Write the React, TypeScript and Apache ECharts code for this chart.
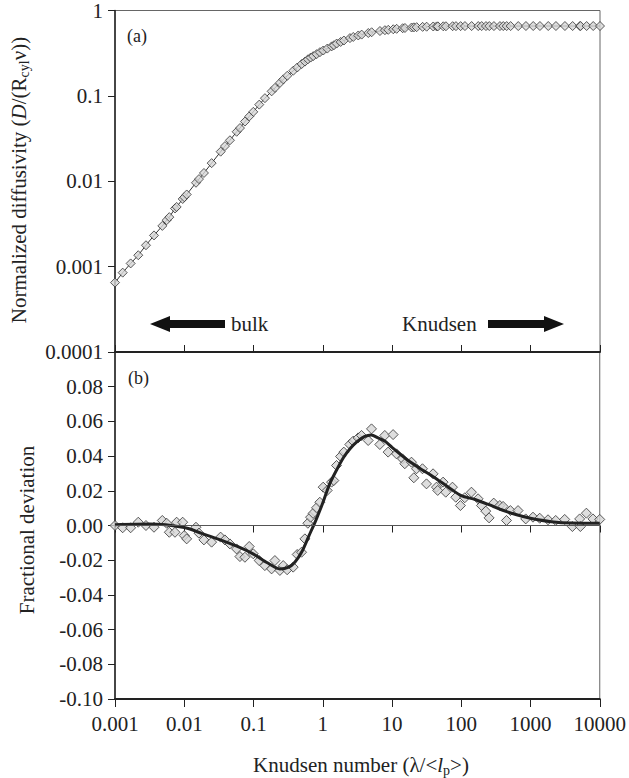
import React, { useEffect, useRef } from "react";
import * as echarts from "echarts";

// Knudsen number positions (log10 of Kn)
const knLog10 = [
  -3.0, -2.889, -2.774, -2.664, -2.553, -2.437, -2.317, -2.254, -2.216, -2.134,
  -2.11, -2.023, -2.0, -1.965, -1.831, -1.788, -1.716, -1.605, -1.475, -1.413,
  -1.341, -1.244, -1.196, -1.124, -1.062, -1.004, -0.918, -0.836, -0.739, -0.691,
  -0.619, -0.571, -0.514, -0.427, -0.369, -0.306, -0.258, -0.215, -0.176, -0.139,
  -0.09, -0.042, 0.006, 0.064, 0.127, 0.16, 0.199, 0.257, 0.304, 0.391,
  0.439, 0.511, 0.56, 0.656, 0.704, 0.824, 0.896, 0.944, 1.016, 1.065,
  1.152, 1.185, 1.281, 1.315, 1.354, 1.44, 1.498, 1.593, 1.642, 1.66,
  1.738, 1.776, 1.873, 1.921, 1.988, 2.051, 2.147, 2.243, 2.292, 2.354,
  2.402, 2.469, 2.556, 2.604, 2.653, 2.71, 2.82, 2.931, 3.036, 3.133,
  3.253, 3.364, 3.494, 3.605, 3.71, 3.72, 3.807, 3.902, 4.0,
];

// Panel (a): normalized diffusivity
const diffusivity = [
  0.00065, 0.00085, 0.00109, 0.00136, 0.00178, 0.00232, 0.003, 0.0035, 0.0038, 0.0048,
  0.005, 0.0062, 0.0065, 0.007, 0.0096, 0.0106, 0.0125, 0.0163, 0.0222, 0.0258,
  0.0302, 0.038, 0.042, 0.05, 0.0575, 0.065, 0.079, 0.094, 0.113, 0.124,
  0.142, 0.156, 0.172, 0.197, 0.215, 0.236, 0.252, 0.268, 0.281, 0.292,
  0.308, 0.325, 0.34, 0.358, 0.38, 0.392, 0.41, 0.428, 0.445, 0.475,
  0.49, 0.51, 0.522, 0.545, 0.556, 0.575, 0.588, 0.594, 0.603, 0.61,
  0.62, 0.624, 0.632, 0.635, 0.638, 0.643, 0.646, 0.65, 0.651, 0.652,
  0.653, 0.654, 0.655, 0.656, 0.656, 0.657, 0.657, 0.657, 0.657, 0.657,
  0.657, 0.657, 0.657, 0.657, 0.657, 0.657, 0.657, 0.658, 0.658, 0.658,
  0.658, 0.658, 0.658, 0.658, 0.658, 0.658, 0.658, 0.658, 0.658,
];

// Panel (b): fractional deviation
const deviation = [
  0.0, -0.0013, -0.0013, 0.0019, 0.0, -0.001, 0.0029, 0.0013, -0.0039, -0.0039,
  0.0019, 0.0019, -0.0058, -0.0077, -0.001, -0.0044, -0.0083, -0.0096, -0.0067, -0.0083,
  -0.0106, -0.0135, -0.0179, -0.0183, -0.0121, -0.0163, -0.0202, -0.0231, -0.025, -0.0202,
  -0.0259, -0.0231, -0.0255, -0.024, -0.0167, -0.0154, -0.0077, 0.0013, 0.0048, 0.007,
  0.0102, 0.0134, 0.0221, 0.0202, 0.025, 0.0259, 0.0346, 0.0398, 0.0423, 0.0467,
  0.0486, 0.0505, 0.0519, 0.049, 0.0557, 0.0467, 0.0519, 0.0423, 0.0524, 0.0413,
  0.0384, 0.0356, 0.0365, 0.0275, 0.0327, 0.0327, 0.024, 0.0298, 0.0221, 0.0202,
  0.025, 0.0192, 0.0221, 0.0163, 0.0115, 0.016, 0.0192, 0.0154, 0.0115, 0.0083,
  0.0044, 0.0129, 0.0115, 0.011, 0.0029, 0.0086, 0.0086, 0.0038, 0.0048, 0.0042,
  0.0033, 0.0029, 0.0035, -0.0006, 0.0038, -0.0006, 0.0071, 0.0038, 0.0035,
];

// Panel (b): smooth fitted curve
const fitLog10 = [
  -3.0, -2.5, -2.0, -1.75, -1.5, -1.25, -1.0, -0.8, -0.62, -0.5,
  -0.4, -0.3, -0.2, -0.1, 0.0, 0.1, 0.2, 0.3, 0.4, 0.5,
  0.6, 0.7, 0.8, 0.9, 1.0, 1.2, 1.4, 1.6, 1.8, 2.0,
  2.2, 2.4, 2.6, 2.8, 3.0, 3.3, 3.6, 4.0,
];
const fitDev = [
  0.0005, 0.0008, -0.0012, -0.0045, -0.008, -0.0118, -0.0165, -0.0215, -0.025, -0.0242,
  -0.021, -0.015, -0.006, 0.003, 0.013, 0.024, 0.032, 0.0392, 0.0445, 0.0485,
  0.0512, 0.0522, 0.0505, 0.0485, 0.045, 0.0385, 0.033, 0.028, 0.0225, 0.0172,
  0.015, 0.012, 0.0088, 0.0062, 0.0042, 0.0022, 0.0014, 0.0013,
];

const xTickLabels = ["0.001", "0.01", "0.1", "1", "10", "100", "1000", "10000"];
const yTopTickLabels = ["0.0001", "0.001", "0.01", "0.1", "1"];

const FONT = "Liberation Serif";
const TXT = "#222";

const fmtLog = (v: number) => {
  const s = String(Number(v.toPrecision(1)));
  return xTickLabels.includes(s) || yTopTickLabels.includes(s) ? s : "";
};

const txt = (x: number, y: number, text: string, size: number) => ({
  type: "text", x, y,
  style: { text, fontFamily: FONT, fontSize: size, fill: TXT, verticalAlign: "middle" },
});

export default function App() {
  const ref = useRef<HTMLDivElement>(null);
  useEffect(() => {
    if (!ref.current) return;
    const chart = echarts.init(ref.current, null, { renderer: "svg" });
    const kn = knLog10.map((e) => Math.pow(10, e));
    const topData = kn.map((k, i) => [k, diffusivity[i]]);
    const botData = kn.map((k, i) => [k, deviation[i]]);
    const fitData = fitLog10.map((e, i) => [Math.pow(10, e), fitDev[i]]);

    const markerStyle = { color: "#d6d6d6", borderColor: "#333", borderWidth: 1 };

    chart.setOption({
      animation: false,
      grid: [
        { left: 115, top: 10, width: 485, height: 342, show: true, borderColor: "#666", borderWidth: 1 },
        { left: 115, top: 352, width: 485, height: 347, show: true, borderColor: "#666", borderWidth: 1 },
      ],
      xAxis: [
        {
          type: "log", gridIndex: 0, min: 0.001, max: 10000, splitNumber: 7, position: "bottom",
          axisLine: { show: true, lineStyle: { color: "#222", width: 2 } },
          axisTick: { show: true, inside: true, length: 7, lineStyle: { color: "#222", width: 1 } },
          axisLabel: { show: false }, splitLine: { show: false },
        },
        {
          type: "log", gridIndex: 1, min: 0.001, max: 10000, splitNumber: 7, position: "top",
          axisLine: { show: false },
          axisTick: { show: true, inside: true, length: 7, lineStyle: { color: "#222", width: 1 } },
          axisLabel: { show: false }, splitLine: { show: false },
        },
        {
          type: "log", gridIndex: 1, min: 0.001, max: 10000, splitNumber: 7, position: "bottom",
          axisLine: { show: true, lineStyle: { color: "#222", width: 2 } },
          axisTick: { show: true, inside: false, length: 8, lineStyle: { color: "#222", width: 1 } },
          axisLabel: { fontFamily: FONT, fontSize: 21, color: TXT, margin: 14, formatter: fmtLog },
          splitLine: { show: false },
        },
      ],
      yAxis: [
        {
          type: "log", gridIndex: 0, min: 0.0001, max: 1, splitNumber: 4,
          axisLine: { show: true, lineStyle: { color: "#222", width: 1.5 } },
          axisTick: { show: true, inside: false, length: 7, lineStyle: { color: "#222", width: 1 } },
          axisLabel: { fontFamily: FONT, fontSize: 21, color: TXT, margin: 12, formatter: fmtLog },
          splitLine: { show: false },
        },
        {
          type: "value", gridIndex: 1, min: -0.1, max: 0.1, interval: 0.02,
          axisLine: { show: true, onZero: false, lineStyle: { color: "#222", width: 1.5 } },
          axisTick: { show: true, inside: false, length: 7, lineStyle: { color: "#222", width: 1 } },
          axisLabel: {
            fontFamily: FONT, fontSize: 21, color: TXT, margin: 12,
            formatter: (v: number) => (v > 0.09 ? "" : Math.abs(v) < 1e-9 ? "0.00" : v.toFixed(2)),
          },
          splitLine: { show: false },
        },
      ],
      series: [
        {
          type: "line", xAxisIndex: 0, yAxisIndex: 0, data: topData, showSymbol: false,
          lineStyle: { color: "#333", width: 1 }, z: 2,
        },
        {
          type: "scatter", xAxisIndex: 0, yAxisIndex: 0, data: topData, symbol: "diamond",
          symbolSize: 9, itemStyle: markerStyle, z: 3,
        },
        {
          type: "scatter", xAxisIndex: 2, yAxisIndex: 1, data: botData, symbol: "diamond",
          symbolSize: 10, itemStyle: markerStyle, z: 3,
          markLine: {
            silent: true, symbol: "none", label: { show: false },
            lineStyle: { color: "#555", width: 1, type: "solid" },
            data: [{ yAxis: 0 }],
          },
        },
        {
          type: "line", xAxisIndex: 2, yAxisIndex: 1, data: fitData, showSymbol: false, smooth: 0.25,
          lineStyle: { color: "#222", width: 3 }, z: 4,
        },
      ],
      graphic: [
        {
          type: "text", x: 19, y: 180, rotation: Math.PI / 2,
          style: {
            text: "Normalized diffusivity ({i|D}/(R{sub|cyl}ν))",
            fontFamily: FONT, fontSize: 21, fill: TXT, align: "center", verticalAlign: "middle",
            rich: {
              i: { fontFamily: FONT, fontSize: 21, fontStyle: "italic", fill: TXT },
              sub: { fontFamily: FONT, fontSize: 14, fill: TXT, padding: [10, 0, 0, 0] },
            },
          },
        },
        {
          type: "text", x: 27, y: 530, rotation: Math.PI / 2,
          style: {
            text: "Fractional deviation", fontFamily: FONT, fontSize: 21, fill: TXT,
            align: "center", verticalAlign: "middle",
          },
        },
        {
          type: "text", x: 361, y: 765,
          style: {
            text: "Knudsen number (λ/<{i|l}{sub|p}>)",
            fontFamily: FONT, fontSize: 21, fill: TXT, align: "center", verticalAlign: "middle",
            rich: {
              i: { fontFamily: FONT, fontSize: 21, fontStyle: "italic", fill: TXT },
              sub: { fontFamily: FONT, fontSize: 14, fill: TXT, padding: [10, 0, 0, 0] },
            },
          },
        },
        txt(127, 36, "(a)", 18),
        txt(128, 378, "(b)", 18),
        txt(231, 324, "bulk", 21),
        txt(402, 324, "Knudsen", 21),
        {
          type: "polygon",
          shape: { points: [[150, 324], [170, 316], [170, 320], [225, 320], [225, 328], [170, 328], [170, 332]] },
          style: { fill: "#111" },
        },
        {
          type: "polygon",
          shape: { points: [[488, 320], [544, 320], [544, 316], [564, 324], [544, 332], [544, 328], [488, 328]] },
          style: { fill: "#111" },
        },
      ],
    });
    return () => chart.dispose();
  }, []);
  return (
    <div
      ref={ref}
      style={{ position: "absolute", left: 0, top: 0, width: 629, height: 778, background: "#fff" }}
    />
  );
}
